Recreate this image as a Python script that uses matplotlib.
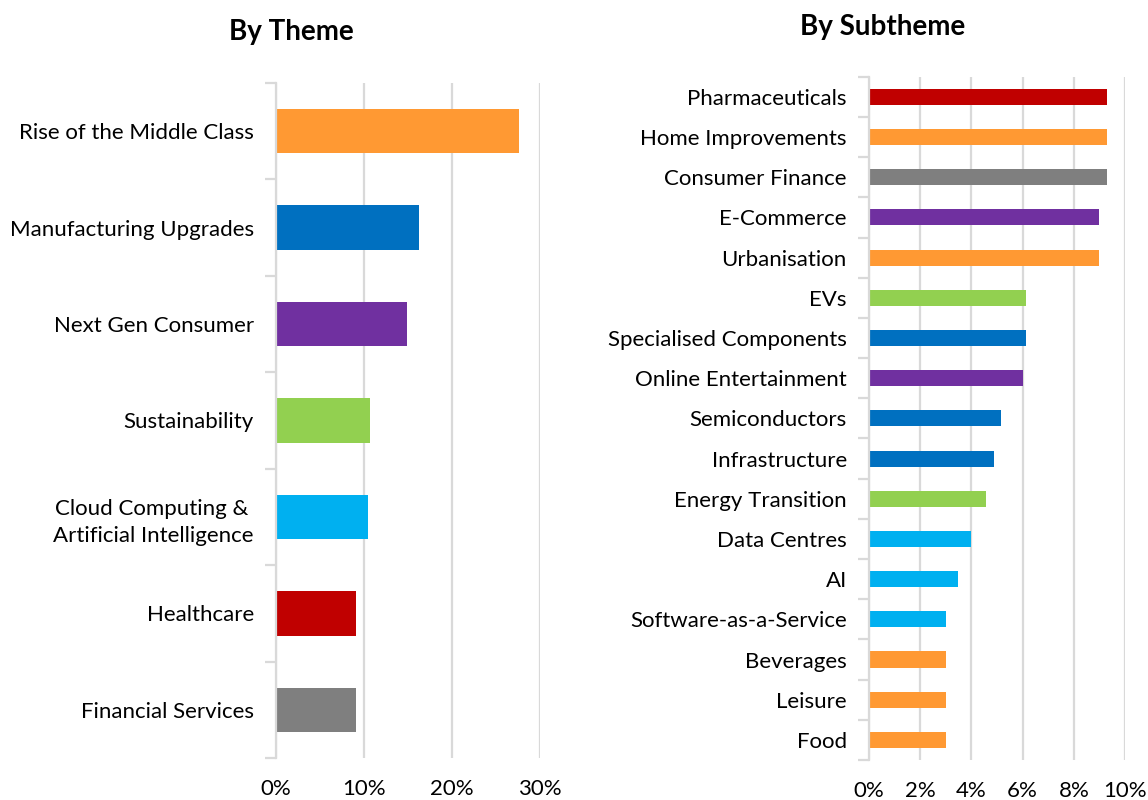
import matplotlib.pyplot as plt
from matplotlib.ticker import PercentFormatter, FixedLocator

# data
themes = ["Rise of the Middle Class", "Manufacturing Upgrades", "Next Gen Consumer",
          "Sustainability", "Cloud Computing & \nArtificial Intelligence",
          "Healthcare", "Financial Services"]
theme_weights = [27.6, 16.3, 14.9, 10.7, 10.5, 9.1, 9.1]

subthemes = ["Pharmaceuticals", "Home Improvements", "Consumer Finance", "E-Commerce",
             "Urbanisation", "EVs", "Specialised Components", "Online Entertainment",
             "Semiconductors", "Infrastructure", "Energy Transition", "Data Centres",
             "AI", "Software-as-a-Service", "Beverages", "Leisure", "Food"]
subtheme_weights = [9.3, 9.3, 9.3, 9.0, 8.98, 6.15, 6.15, 6.0, 5.17, 4.9, 4.58,
                    3.97, 3.46, 3.0, 3.0, 3.0, 3.0]
subtheme_parent = [5, 0, 6, 2, 0, 3, 1, 2, 1, 1, 3, 4, 4, 4, 0, 0, 0]

theme_colors = ["#FF9933", "#0070C0", "#7030A0", "#92D050", "#00B0F0", "#C00000", "#7F7F7F"]

plt.rcParams["font.family"] = ["Lato", "DejaVu Sans"]
GRID = "#d9d9d9"


def style_axis(ax, n):
    ax.set_ylim(n - 0.5, -0.5)
    ax.xaxis.set_major_formatter(PercentFormatter(decimals=0))
    ax.grid(axis="x", color=GRID, linewidth=1.6)
    ax.set_axisbelow(True)
    for s in ["top", "right", "bottom"]:
        ax.spines[s].set_visible(False)
    ax.spines["left"].set_color(GRID)
    ax.spines["left"].set_linewidth(1.6)
    ax.yaxis.set_minor_locator(FixedLocator([i - 0.5 for i in range(n + 1)]))
    ax.tick_params(axis="y", which="major", length=0, pad=16, labelsize=16)
    ax.tick_params(axis="y", which="minor", length=8, color=GRID, width=1.6)
    ax.tick_params(axis="x", length=0, pad=15, labelsize=16)


fig = plt.figure(figsize=(11.48, 8), dpi=100)

ax1 = fig.add_axes([0.2404, 0.0525, 0.230, 0.8438])
ax1.barh(range(len(themes)), theme_weights, height=0.46, color=theme_colors)
ax1.set_yticks(range(len(themes)))
ax1.set_yticklabels(themes, multialignment="right", linespacing=1.45)
ax1.set_xlim(0, 30)
ax1.set_xticks([0, 10, 20, 30])
style_axis(ax1, len(themes))

ax2 = fig.add_axes([0.757, 0.05, 0.223, 0.854])
ax2.barh(range(len(subthemes)), subtheme_weights, height=0.4,
         color=[theme_colors[p] for p in subtheme_parent])
ax2.set_yticks(range(len(subthemes)))
ax2.set_yticklabels(subthemes)
ax2.set_xlim(0, 10)
ax2.set_xticks([0, 2, 4, 6, 8, 10])
style_axis(ax2, len(subthemes))

fig.text(291 / 1148, 1 - 32 / 800, "By Theme", ha="center", va="center",
         fontsize=20, fontweight="bold")
fig.text(883 / 1148, 1 - 27 / 800, "By Subtheme", ha="center", va="center",
         fontsize=20, fontweight="bold")

fig.savefig("out.png", dpi=100)
